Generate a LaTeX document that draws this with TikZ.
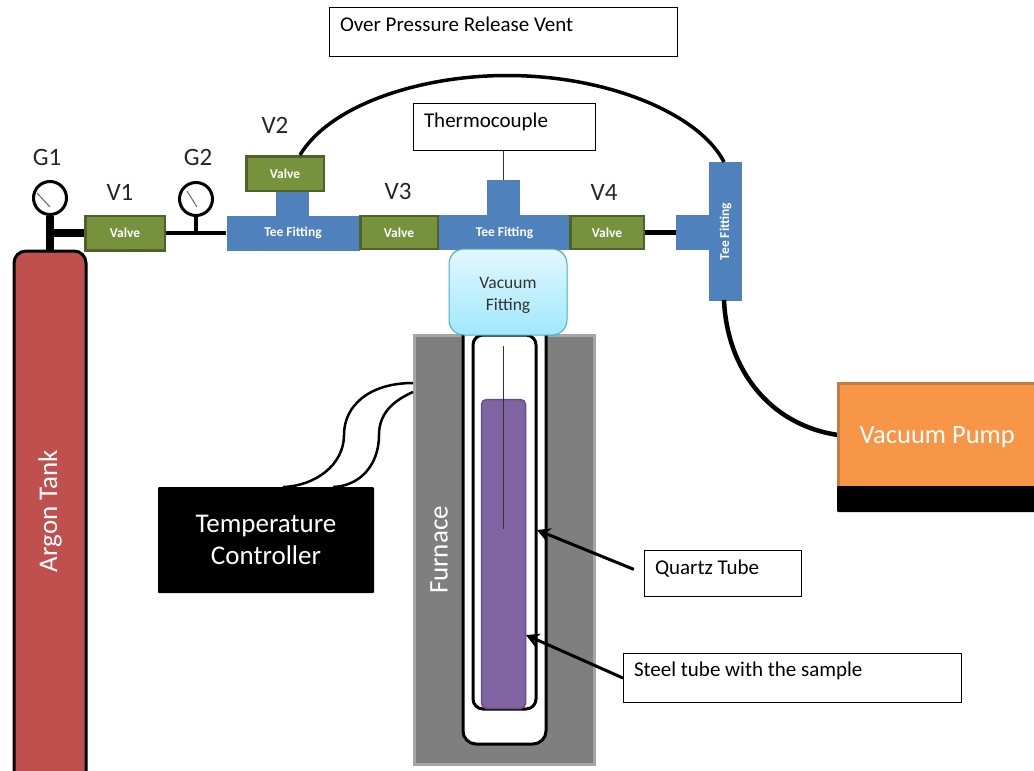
\documentclass[tikz,border=0pt]{standalone}
\usepackage{fontspec}
\setmainfont{Carlito}
\usetikzlibrary{arrows.meta,shapes,positioning,shadows}
\definecolor{valvegreen}{HTML}{76923C}
\definecolor{valveedge}{HTML}{4F6228}
\definecolor{teeblue}{HTML}{4F81BD}
\definecolor{tankred}{HTML}{C0504D}
\definecolor{pumporange}{HTML}{F79646}
\definecolor{pumpedge}{HTML}{C47C42}
\definecolor{samplepurple}{HTML}{8064A2}
\definecolor{sampleedge}{HTML}{674F88}
\definecolor{furnacegray}{HTML}{7F7F7F}
\definecolor{furnaceedge}{HTML}{A6A6A6}
\definecolor{fittingtop}{HTML}{E2F7FF}
\definecolor{fittingbottom}{HTML}{A0E8FB}
\definecolor{fittingedge}{HTML}{4BACC6}
\tikzset{
	px/.style={font=\fontsize{#1}{#1}\selectfont},
	valve/.style={draw=valveedge, line width=2.5pt, fill=valvegreen, text=white, px=13.5, inner sep=0pt},
	tee/.style={fill=teeblue, text=white, px=13.5, inner sep=0pt},
	gauge/.style={circle, draw, line width=3pt, fill=white, minimum size=33pt, inner sep=0pt},
	needle/.style={draw=black!60, line width=1pt},
	tag/.style={text=black!85, px=25, inner sep=0pt},
	labelbox/.style={draw, line width=1pt, anchor=north west, align=flush left, inner ysep=0pt, inner xsep=10.5pt, px=21},
	pipe/.style={draw, line width=#1},
	pointer/.style={draw, line width=3pt, -{Stealth[length=13pt,width=14pt,inset=4pt]}, shorten <=#1}
}
\begin{document}
\begin{tikzpicture}[x=1pt,y=-1pt]
	\useasboundingbox (0,0) rectangle (1034,771);

	\node[draw, line width=3pt, fill=tankred, rounded corners=12pt, minimum width=72pt, minimum height=538pt, inner sep=0pt] (tank) at (50,520) {};
	\node[rotate=90, text=white, px=27, inner sep=0pt] (tanktext) at (50,511) {Argon Tank};

	\node[gauge] (G1) at (50,198) {};
	\node[gauge] (G2) at (196,199) {};
	\coordinate (G1a) at (37,193);
	\coordinate (G1b) at (50,207);
	\coordinate (G2a) at (187,191);
	\coordinate (G2b) at (197,207);
	\draw[needle] (G1a) -- (G1b);
	\draw[needle] (G2a) -- (G2b);

	\node[tee, minimum width=33pt, minimum height=24pt] (tee1stem) at (292.5,204) {};
	\node[tee, minimum width=133pt, minimum height=35pt] (tee1) at (293,233) {\textbf{Tee Fitting}};
	\node[tee, minimum width=33pt, minimum height=36pt] (tee2stem) at (503.5,198) {};
	\node[tee, minimum width=131pt, minimum height=35pt] (tee2) at (504.5,232.5) {\textbf{Tee Fitting}};
	\node[tee, minimum width=33pt, minimum height=35pt] (tee3stem) at (692.5,232.5) {};
	\node[tee, rotate=90, minimum width=139pt, minimum height=33pt] (tee3) at (725.5,231.5) {\textbf{Tee Fitting}};

	\node[valve, minimum width=79.5pt, minimum height=34.5pt] (V1) at (125,233) {\textbf{Valve}};
	\node[valve, minimum width=77.5pt, minimum height=34.5pt] (V2) at (285,173.5) {\textbf{Valve}};
	\node[valve, minimum width=77.5pt, minimum height=33pt] (V3) at (399,232.5) {\textbf{Valve}};
	\node[valve, minimum width=73.5pt, minimum height=33pt] (V4) at (607,232.5) {\textbf{Valve}};

	\draw[pipe=8pt] (G1.south) -- (tank.north -| G1);
	\coordinate (G1tap) at (50,233);
	\coordinate (G2tap) at (196,233);
	\draw[pipe=8pt] (G1tap) -- (V1.west);
	\draw[pipe=4.5pt] (V1.east) -- (tee1.west);
	\draw[pipe=4.5pt] (G2.south) -- (G2tap);
	\draw[pipe=5pt] (V4.east) -- (tee3stem.west);

	\coordinate (archa) at (300,155);
	\coordinate (archb) at (724,162);
	\coordinate (pumpa) at (724,300);
	\coordinate (pumpb) at (838,435);
	\draw[pipe=3.5pt] (archa) .. controls (330,105) and (420,75.5) .. (507,75.5) .. controls (610,75.5) and (700,115) .. (archb);
	\draw[pipe=4.5pt] (pumpa) .. controls (727,370) and (770,425) .. (pumpb);

	\node[draw=furnaceedge, line width=3pt, fill=furnacegray, minimum width=180pt, minimum height=429pt, inner sep=0pt] (furnace) at (504.5,549.5) {};
	\node[rotate=90, text=white, px=27, inner sep=0pt] (furnacetext) at (439,550) {Furnace};
	\node[draw, line width=3pt, fill=white, rounded corners=13pt, minimum width=83pt, minimum height=440pt, inner sep=0pt] (outertube) at (504.5,524) {};
	\node[draw, line width=3pt, fill=white, rounded corners=10pt, minimum width=63pt, minimum height=374pt, inner sep=0pt] (quartz) at (504.5,522) {};
	\node[draw=sampleedge, line width=1.5pt, fill=samplepurple, rounded corners=5pt, minimum width=44pt, minimum height=309pt, inner sep=0pt] (sample) at (503.5,554) {};
	\coordinate (probea) at (503.5,346);
	\coordinate (probeb) at (503.5,529);
	\draw[line width=1pt, draw=black!80] (probea) -- (probeb);

	\node[draw=fittingedge, line width=1pt, top color=fittingtop, bottom color=fittingbottom, rounded corners=15pt, minimum width=118pt, minimum height=86pt, inner sep=0pt, align=center, text=black!80, px=17.5, drop shadow={opacity=.25, shadow xshift=0pt, shadow yshift=2pt}] (fitting) at (508,292) {\rule{0pt}{18pt}Vacuum\\[4pt]Fitting};

	\node[labelbox, text width=327pt, text height=24pt, text depth=25pt] (vent) at (329,7) {Over Pressure Release Vent};
	\node[labelbox, text width=161pt, text height=24pt, text depth=23pt] (couple) at (413,103) {Thermocouple};
	\node[labelbox, text width=136pt, text height=24pt, text depth=22pt] (quartzlabel) at (644,550) {Quartz Tube};
	\node[labelbox, text width=317pt, text height=23pt, text depth=26pt] (steellabel) at (623,653) {Steel tube with the sample};
	\draw[line width=1pt, draw=black!80] (couple.south -| probea) -- (tee2stem.north);

	\coordinate (quartztip) at (537,530);
	\coordinate (steeltip) at (526,635);
	\draw[pointer=11pt] (quartzlabel.west) -- (quartztip);
	\draw[pointer=0pt] (steellabel.west) -- (steeltip);

	\coordinate (cablea) at (283,487);
	\coordinate (cableb) at (333,487);
	\coordinate (cablec) at (413,383);
	\coordinate (cabled) at (413,392);
	\draw[pipe=2.5pt] (cablea) .. controls (315,486) and (344,465) .. (344,435) .. controls (344,405) and (370,383) .. (cablec);
	\draw[pipe=2.5pt] (cableb) .. controls (360,486) and (379,465) .. (379,435) .. controls (379,412) and (395,400) .. (cabled);
	\node[fill=black, rounded corners=1pt, minimum width=216pt, minimum height=106pt, inner sep=0pt, align=center, text=white, px=27] (controller) at (266,540) {Temperature\\[5pt]Controller};

	\node[draw=pumpedge, line width=3pt, fill=pumporange, minimum width=197.5pt, minimum height=103.5pt, inner sep=0pt, text=white, px=26.5] (pump) at (937.25,435.25) {\rule{0pt}{21pt}Vacuum Pump};
	\node[fill=black, rounded corners=1pt, minimum width=200pt, minimum height=26pt, inner sep=0pt] (pumpbase) at (937,499) {};

	\node[tag] (G1tag) at (47,157) {G1};
	\node[tag] (G2tag) at (198,157) {G2};
	\node[tag] (V1tag) at (120,192) {V1};
	\node[tag] (V2tag) at (275,125) {V2};
	\node[tag] (V3tag) at (398,191) {V3};
	\node[tag] (V4tag) at (604,192) {V4};
\end{tikzpicture}
\end{document}
